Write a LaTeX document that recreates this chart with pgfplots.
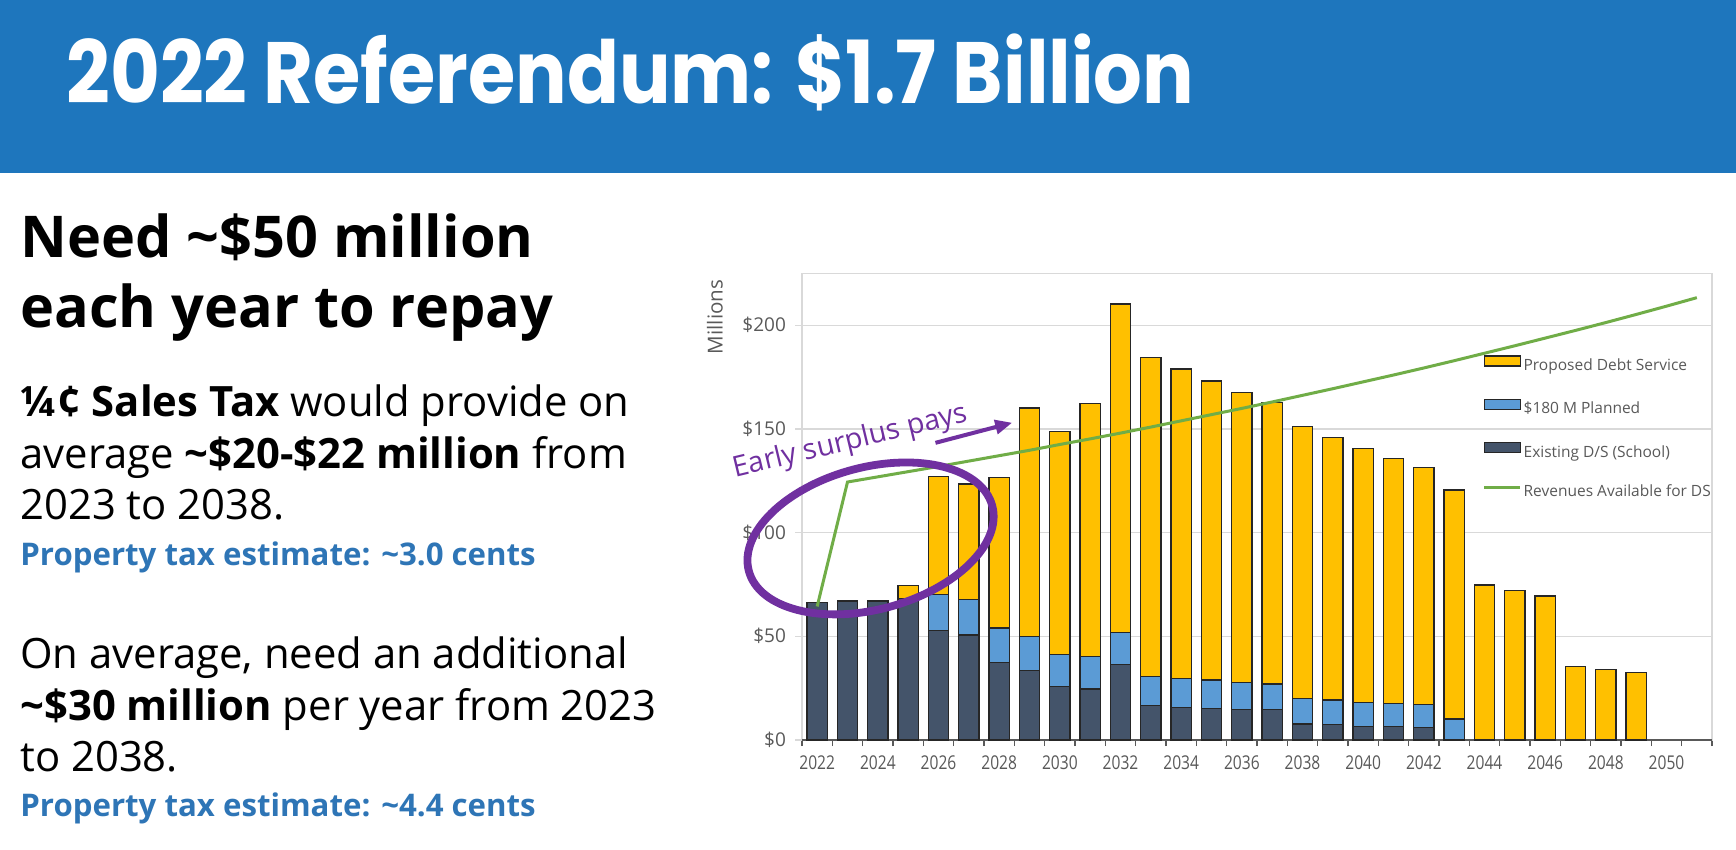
\documentclass[border=0pt]{standalone}
\usepackage{pgfplots}
\pgfplotsset{compat=1.18}
\usepackage{pgfplotstable}
\usepackage{graphicx}
\usepackage{fontspec}
\setmainfont{Open Sans}
\newfontfamily\titlefont{Poppins}
\usetikzlibrary{arrows.meta}
\definecolor{headerblue}{HTML}{1E76BD}
\definecolor{taxblue}{HTML}{2E75B6}
\definecolor{darkbar}{HTML}{44546A}
\definecolor{bluebar}{HTML}{5B9BD5}
\definecolor{yellowbar}{HTML}{FFC000}
\definecolor{revgreen}{HTML}{70AD47}
\definecolor{annot}{HTML}{7030A0}
\definecolor{gridgray}{HTML}{D9D9D9}
\definecolor{labelgray}{HTML}{595959}

\pgfplotstableread{
year dark blue yellow
2022 66.2 0 0
2023 67.0 0 0
2024 67.0 0 0
2025 68.2 0 6.2
2026 52.7 17.6 56.8
2027 50.6 17.2 55.6
2028 37.3 16.7 72.4
2029 33.4 16.4 110.3
2030 25.7 15.7 107.2
2031 24.6 15.6 122.0
2032 36.6 15.1 158.5
2033 16.5 14.3 153.7
2034 15.7 14.0 149.2
2035 15.3 13.6 144.2
2036 14.9 13.0 139.5
2037 14.6 12.4 135.6
2038 7.7 12.4 130.9
2039 7.4 11.9 126.6
2040 6.7 11.5 122.4
2041 6.4 11.1 118.4
2042 6.1 10.9 114.4
2043 0 10.1 110.5
2044 0 0 74.7
2045 0 0 72.0
2046 0 0 69.4
2047 0 0 35.3
2048 0 0 34.1
2049 0 0 32.6
}\debt

\pgfplotstableread{
year rev
2022 64.4
2023 124.4
2024 126.9
2025 129.4
2026 131.9
2027 134.5
2028 137.1
2029 139.7
2030 142.5
2031 145.2
2032 148.0
2033 150.9
2034 153.9
2035 156.9
2036 159.9
2037 163.0
2038 166.2
2039 169.4
2040 172.7
2041 176.0
2042 179.4
2043 182.9
2044 186.5
2045 190.1
2046 193.8
2047 197.5
2048 201.3
2049 205.2
2050 209.2
2051 213.3
}\revenue

\newcommand\sx[1]{\scalebox{0.82}[1]{#1}}

\begin{document}
\begin{tikzpicture}
% page frame and header
\fill[white] (0,0) rectangle (868pt,-425pt);
\fill[headerblue] (0,0) rectangle (868pt,-86.5pt);
\node[anchor=base west, inner sep=0, text=white, font=\titlefont\bfseries\fontsize{43.5}{50}\selectfont] at (33pt,-52pt) {\scalebox{0.88}[1]{2022 Referendum: \$1.7 Billion}};

% left text
\begin{scope}[every node/.style={anchor=base west, inner sep=0}]
\node[font=\bfseries\fontsize{28.8}{32}\selectfont] at (10pt,-129pt) {Need \textasciitilde\$50 million};
\node[font=\bfseries\fontsize{28.8}{32}\selectfont] at (10pt,-164pt) {each year to repay};
\node[font=\fontsize{20.9}{24}\selectfont] at (10pt,-208pt) {\textbf{¼¢ Sales Tax} would provide on};
\node[font=\fontsize{20.9}{24}\selectfont] at (10pt,-234pt) {average \textbf{\textasciitilde\$20-\$22 million} from};
\node[font=\fontsize{20.9}{24}\selectfont] at (10pt,-259.5pt) {2023 to 2038.};
\node[font=\bfseries\fontsize{15.6}{18}\selectfont, text=taxblue] at (10pt,-282.5pt) {Property tax estimate: \textasciitilde3.0 cents};
\node[font=\fontsize{20.9}{24}\selectfont] at (10pt,-334pt) {On average, need an additional};
\node[font=\fontsize{20.9}{24}\selectfont] at (10pt,-360pt) {\textbf{\textasciitilde\$30 million} per year from 2023};
\node[font=\fontsize{20.9}{24}\selectfont] at (10pt,-385.5pt) {to 2038.};
\node[font=\bfseries\fontsize{15.6}{18}\selectfont, text=taxblue] at (10pt,-408pt) {Property tax estimate: \textasciitilde4.4 cents};
\end{scope}

\node[rotate=90, text=labelgray, font=\fontsize{10.3}{12}\selectfont] at (357.5pt,-158.5pt) {Millions};

\begin{axis}[
  at={(401pt,-370pt)}, anchor=south west,
  scale only axis, width=455pt, height=233.3pt,
  xmin=2021.5, xmax=2051.5, ymin=0, ymax=225,
  ybar stacked, bar width=10.25pt,
  axis line style={draw=gridgray, line width=0.6pt},
  ymajorgrids, grid style={draw=gridgray, line width=0.6pt},
  tick pos=left, tick align=outside,
  ytick={0,50,100,150,200},
  yticklabels={\$0,\$50,\$100,\$150,\$200},
  major y tick style={draw=gridgray, line width=0.6pt},
  major tick length=3.5pt,
  xtick={2022,2024,2026,2028,2030,2032,2034,2036,2038,2040,2042,2044,2046,2048,2050},
  xticklabels={\sx{2022},\sx{2024},\sx{2026},\sx{2028},\sx{2030},\sx{2032},\sx{2034},\sx{2036},\sx{2038},\sx{2040},\sx{2042},\sx{2044},\sx{2046},\sx{2048},\sx{2050}},
  major x tick style={draw=none},
  minor xtick={2021.5,2022.5,...,2051.5},
  minor x tick style={draw=labelgray, line width=0.6pt},
  minor tick length=3pt,
  ticklabel style={font=\fontsize{9.5}{11}\selectfont, text=labelgray},
  xticklabel style={yshift=-1pt},
  yticklabel style={xshift=-1pt},
]
\addplot[fill=darkbar, draw=black!85, line width=0.6pt] table[x=year,y=dark]{\debt};
\addplot[fill=bluebar, draw=black!85, line width=0.6pt] table[x=year,y=blue]{\debt};
\addplot[fill=yellowbar, draw=black!85, line width=0.6pt] table[x=year,y=yellow]{\debt};
\draw[labelgray, line width=0.8pt] (rel axis cs:0,0) -- (rel axis cs:1,0);
\end{axis}

\begin{axis}[
  at={(401pt,-370pt)}, anchor=south west,
  scale only axis, width=455pt, height=233.3pt,
  xmin=2021.5, xmax=2051.5, ymin=0, ymax=225,
  hide axis, clip=false,
  legend cell align=left,
  legend style={at={(0.7475,0.825)}, anchor=north west, draw=none, fill=none,
    inner sep=0pt, row sep=12.4pt,
    font=\fontsize{7.75}{9}\selectfont, text=labelgray,
    nodes={inner xsep=1pt, inner ysep=0pt, text height=5.8pt, text depth=1.6pt}},
]
\addplot[revgreen, line width=1.5pt, mark=none, forget plot] table[x=year,y=rev]{\revenue};
\addlegendimage{legend image code/.code={\draw[fill=yellowbar, draw=black!85, line width=0.6pt] (0pt,0.2pt) rectangle (18pt,5.2pt);}}
\addlegendentry{Proposed Debt Service}
\addlegendimage{legend image code/.code={\draw[fill=bluebar, draw=black!85, line width=0.6pt] (0pt,0.2pt) rectangle (18pt,5.2pt);}}
\addlegendentry{\$180 M Planned}
\addlegendimage{legend image code/.code={\draw[fill=darkbar, draw=black!85, line width=0.6pt] (0pt,0.2pt) rectangle (18pt,5.2pt);}}
\addlegendentry{Existing D/S (School)}
\addlegendimage{legend image code/.code={\draw[revgreen, line width=1.5pt] (0pt,2.7pt) -- (18pt,2.7pt);}}
\addlegendentry{Revenues Available for DS}
% annotation
\draw[annot, line width=3.9pt, rotate around={15:(axis cs:2023.76,97.2)}] (axis cs:2023.76,97.2) ellipse (63pt and 35.5pt);
\draw[annot, line width=2pt, -{Triangle[length=8.5pt, width=7pt]}] (axis cs:2025.9,143.3) -- (axis cs:2028.43,153.0);
\node[anchor=base, rotate=13.5, text=annot, inner sep=0, font=\fontsize{14.3}{16}\selectfont] at (axis cs:2023.15,140.2) {Early surplus pays};
\end{axis}
\end{tikzpicture}
\end{document}
